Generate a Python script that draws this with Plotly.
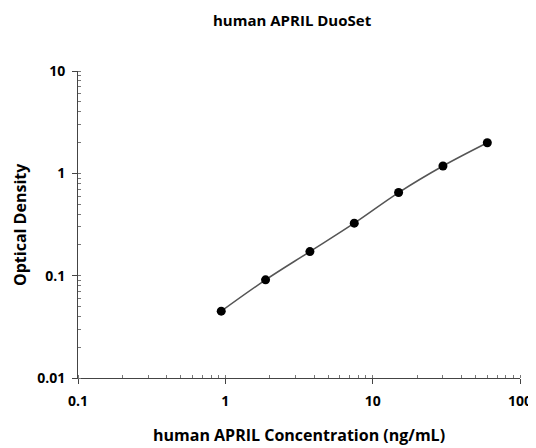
import plotly.graph_objects as go

concentration = [0.938, 1.875, 3.75, 7.5, 15, 30, 60]
optical_density = [0.045, 0.091, 0.172, 0.326, 0.649, 1.18, 1.99]

x_tickvals = [0.1, 1, 10, 100]
x_ticktext = ["0.1", "1", "10", "100"]
y_tickvals = [0.01, 0.1, 1, 10]
y_ticktext = ["0.01", "0.1", "1", "10"]

FONT = "Open Sans"

# The page body has an 8px margin, so the figure is sized to fit the window.
W, H = 528, 440
L, R, T, B = 70, 16, 63, 70
PW, PH = W - L - R, H - T - B

fig = go.Figure()
fig.add_trace(go.Scatter(
    x=concentration, y=optical_density,
    mode="lines+markers",
    line=dict(color="#555555", width=1.5, shape="spline"),
    marker=dict(color="black", size=9),
    showlegend=False,
))

axis_common = dict(
    type="log",
    automargin=False,
    showline=True, linecolor="#444444", linewidth=1,
    showgrid=False, zeroline=False,
    ticks="outside", ticklen=5, tickcolor="#444444",
    tickfont=dict(family=FONT, size=14, color="black", weight="bold"),
    minor=dict(ticks="inside", ticklen=3, tickcolor="#777777", dtick="D1", showgrid=False),
)

fig.update_layout(
    width=W, height=H,
    margin=dict(l=L, r=R, t=T, b=B),
    paper_bgcolor="white", plot_bgcolor="white",
    xaxis=dict(range=[-1, 2], tickvals=x_tickvals, ticktext=x_ticktext,
               ticklabelstandoff=5, **axis_common),
    yaxis=dict(range=[-2, 1], tickvals=y_tickvals, ticktext=y_ticktext,
               ticklabelstandoff=4, **axis_common),
    annotations=[
        dict(text="<b>human APRIL DuoSet</b>", xref="paper", yref="paper",
             x=(284 - L) / PW, y=(H - B - 12) / PH, xanchor="center", yanchor="middle",
             showarrow=False, font=dict(family=FONT, size=15, color="black")),
        dict(text="<b>human APRIL Concentration (ng/mL)</b>", xref="paper", yref="paper",
             x=0.5, y=-(427 - (H - B)) / PH, xanchor="center", yanchor="middle",
             showarrow=False, font=dict(family=FONT, size=16, color="black")),
        dict(text="<b>Optical Density</b>", xref="paper", yref="paper",
             x=(12 - L) / PW, y=((H - B) - 217) / PH, xanchor="center", yanchor="middle",
             textangle=-90, showarrow=False, font=dict(family=FONT, size=16, color="black")),
    ],
)

fig.write_html("out.html")
